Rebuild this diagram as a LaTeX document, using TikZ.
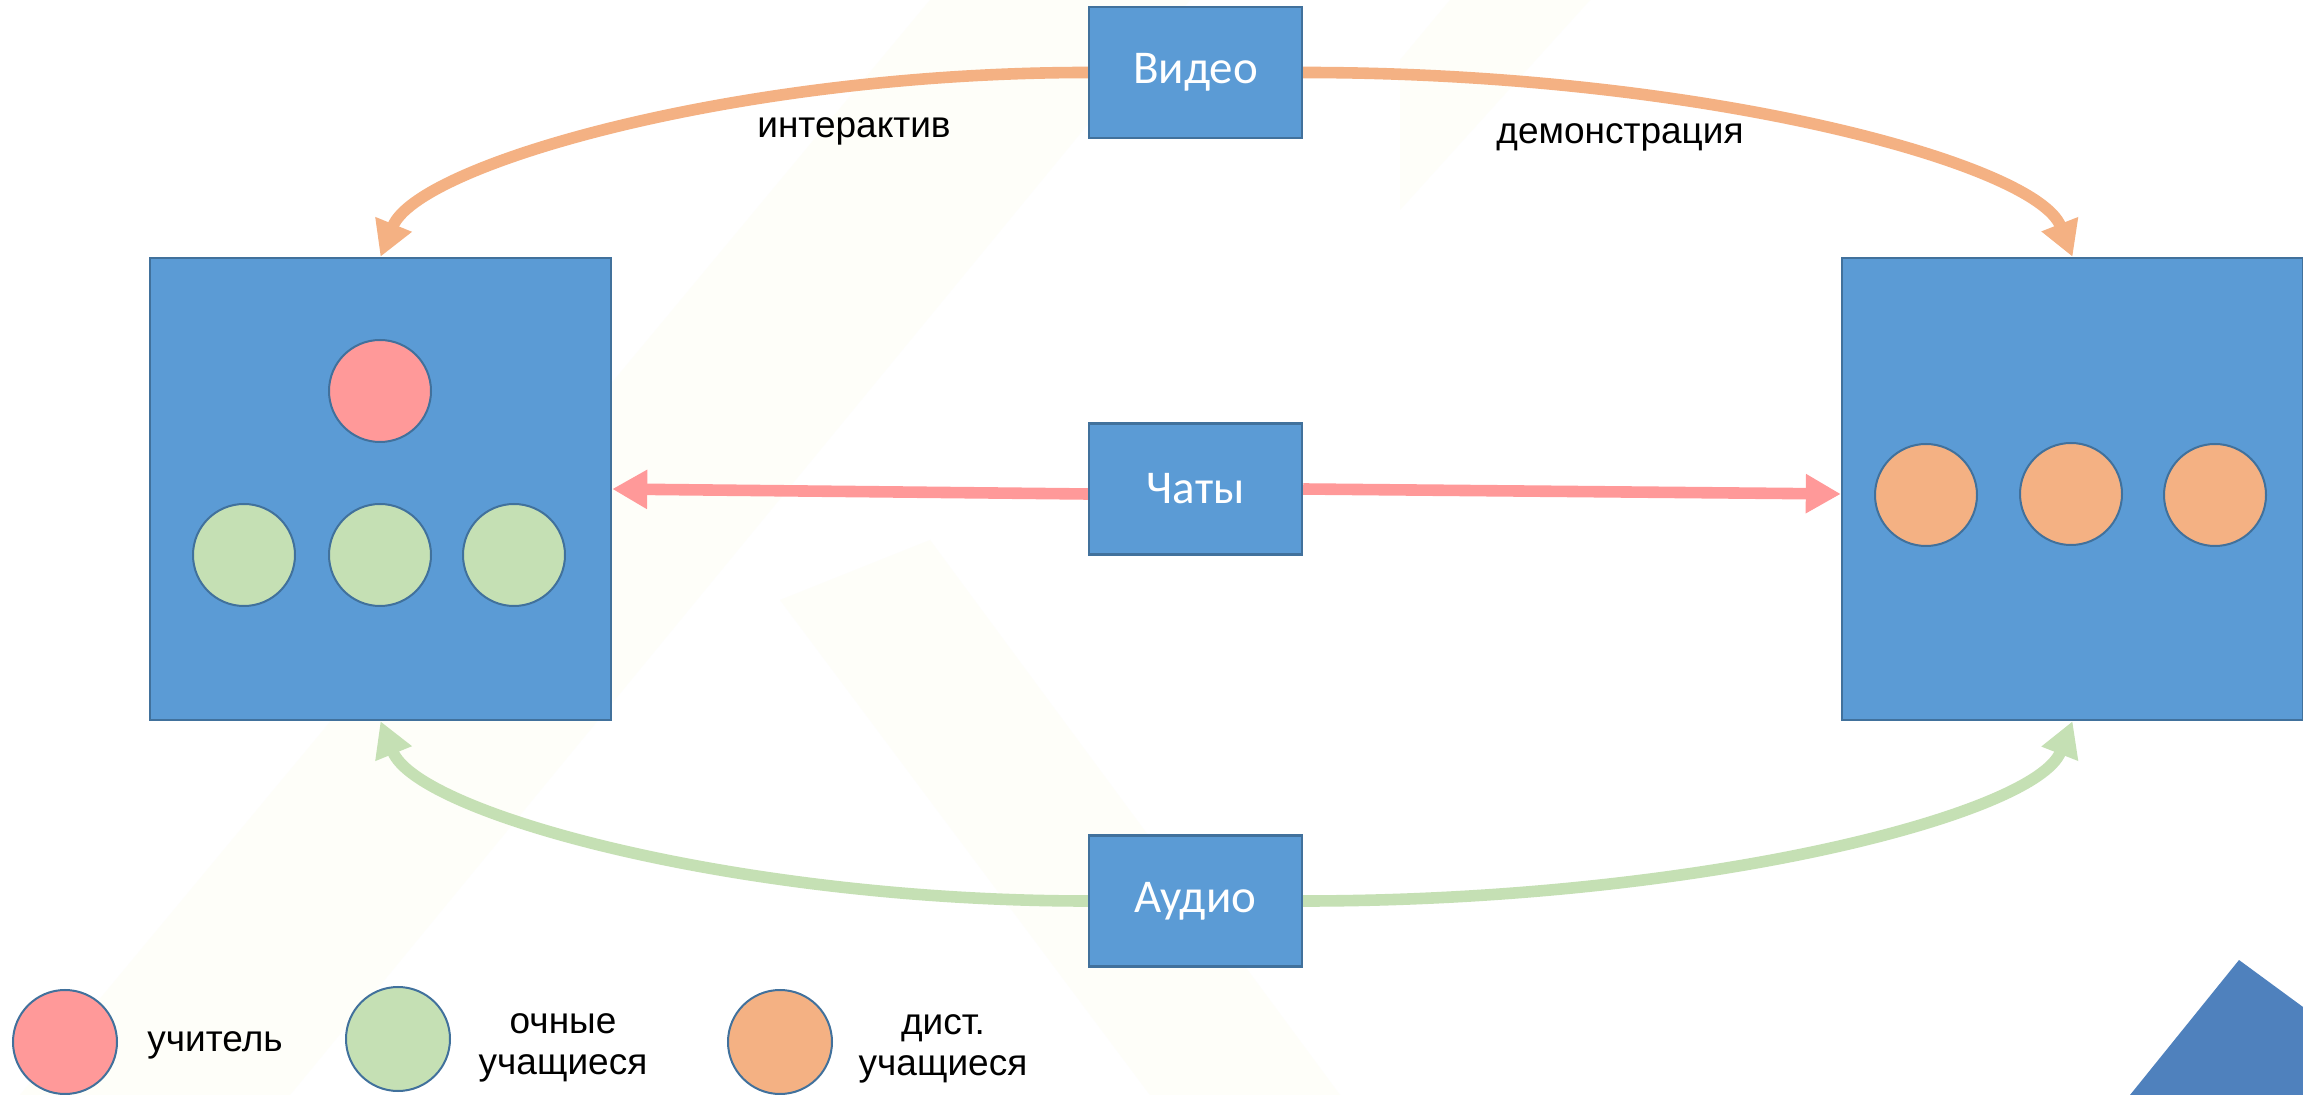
\documentclass[tikz,border=0pt]{standalone}
\usepackage{fontspec}
\setmainfont{Liberation Sans}
\newfontfamily\boxfont{Carlito}
\usetikzlibrary{arrows.meta}
\definecolor{boxblue}{HTML}{5B9BD5}
\definecolor{boxedge}{HTML}{41719C}
\definecolor{pinkc}{HTML}{FF9999}
\definecolor{greenc}{HTML}{C5E0B4}
\definecolor{orangec}{HTML}{F4B183}
\definecolor{cornerblue}{HTML}{4F81BD}
\definecolor{wm}{RGB}{254,254,249}
\tikzset{
  media/.style={draw=boxedge, fill=boxblue, line width=1.2pt, minimum width=106.5pt,
    minimum height=65.5pt, inner sep=0pt, text=white, font=\boxfont\fontsize{23.5}{28}\selectfont},
  room/.style={draw=boxedge, fill=boxblue, line width=1.2pt, minimum width=230.5pt,
    minimum height=231pt, inner sep=0pt},
  person/.style={circle, draw=boxedge, line width=1pt, minimum size=51pt, inner sep=0pt},
  lbl/.style={font=\fontsize{18.5}{20.5}\selectfont, align=center, inner sep=0pt},
  flow/.style={line width=5.8pt, -{Triangle[length=17.5pt,width=18.5pt]}},
}
\begin{document}
\begin{tikzpicture}[x=0.5pt,y=-0.5pt]
\useasboundingbox (0,0) rectangle (2303,1095);
\fill[white] (0,0) rectangle (2303,1095);
% faint watermark bands
\fill[wm] (20,1095) -- (290,1095) -- (1190,0) -- (930,0) -- cycle;
\fill[wm] (780,600) -- (930,540) -- (1340,1095) -- (1150,1095) -- cycle;
\fill[wm] (1400,60) -- (1450,0) -- (1590,0) -- (1400,210) -- cycle;
% corner shape
\fill[cornerblue] (2130,1095) -- (2239,960) -- (2303,1007) -- (2303,1095) -- cycle;

% rooms
\node[room] (lb) at (380.5,489) {};
\node[room] (rb) at (2072.5,489) {};
% media boxes
\node[media] (video) at (1195.5,72.5) {Видео};
\node[media] (chats) at (1195.5,489) {Чаты};
\node[media] (audio) at (1195.5,901) {Аудио};

% people in rooms
\node[person, fill=pinkc] (t1) at (380,391) {};
\node[person, fill=greenc] (s1) at (244,555) {};
\node[person, fill=greenc] (s2) at (380,555) {};
\node[person, fill=greenc] (s3) at (514,555) {};
\node[person, fill=orangec] (d1) at (1926,495) {};
\node[person, fill=orangec] (d2) at (2071,494) {};
\node[person, fill=orangec] (d3) at (2215,495) {};

% connectors
\draw[flow, orangec] (video.west) .. controls +(-350,0) and +(37.5,-92.7) .. (lb.north);
\draw[flow, orangec] (video.east) .. controls +(400,0) and +(-36.4,-93.1) .. (rb.north);
\draw[flow, greenc] (audio.west) .. controls +(-350,0) and +(37.5,92.7) .. (lb.south);
\draw[flow, greenc] (audio.east) .. controls +(400,0) and +(-36.4,93.1) .. (rb.south);
\draw[flow, pinkc] ([yshift=-2.5pt]chats.west) -- (lb.east);
\draw[flow, pinkc] (chats.east) -- ([yshift=-2.5pt]rb.west);

% labels
\node[lbl] (l1) at (854,131) {интерактив};
\node[lbl] (l2) at (1620,137) {демонстрация};

% legend
\node[person, fill=pinkc, minimum size=52pt] (g1) at (65,1042) {};
\node[person, fill=greenc, minimum size=52pt] (g2) at (398,1039) {};
\node[person, fill=orangec, minimum size=52pt] (g3) at (780,1042) {};
\node[lbl] (gt1) at (215,1045) {учитель};
\node[lbl] (gt2) at (563,1048) {очные\\учащиеся};
\node[lbl] (gt3) at (943,1049) {дист.\\учащиеся};
\end{tikzpicture}
\end{document}
